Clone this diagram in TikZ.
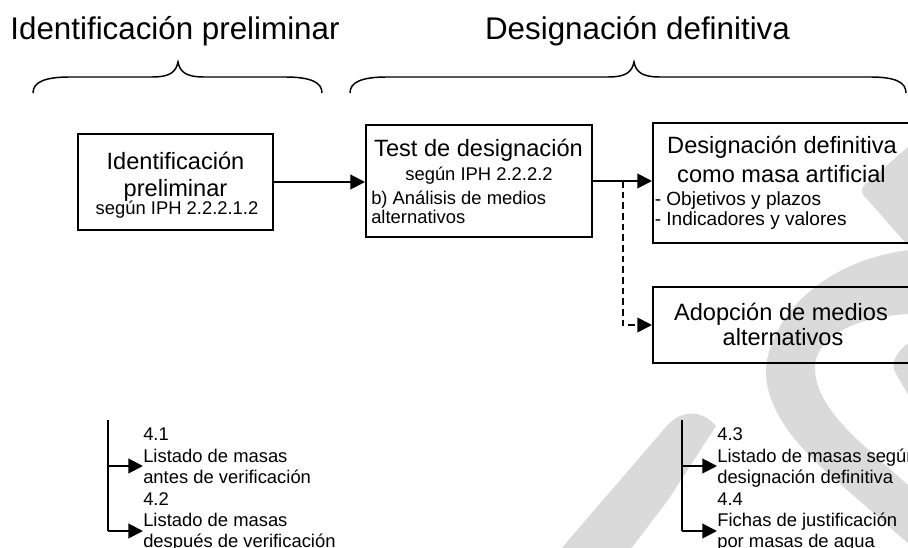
\documentclass[tikz,border=0pt]{standalone}
\usepackage{fontspec}
\setmainfont{Liberation Sans}
\usetikzlibrary{arrows.meta}
\definecolor{wm}{RGB}{218,218,218}
\begin{document}
\begin{tikzpicture}[x=0.75pt,y=-0.75pt,
  box/.style={draw=black, line width=1.5pt, rectangle, inner sep=0pt},
  big/.style={font=\fontsize{17.7pt}{21pt}\selectfont, inner sep=0pt, anchor=base},
  small/.style={font=\fontsize{13.8pt}{16pt}\selectfont, inner sep=0pt, anchor=base},
  smallw/.style={font=\fontsize{13.8pt}{16pt}\selectfont, inner sep=0pt, anchor=base west},
  bullet/.style={font=\fontsize{14.3pt}{16pt}\selectfont, inner sep=0pt, anchor=base west},
  title/.style={font=\fontsize{23.5pt}{28pt}\selectfont, inner sep=0pt, anchor=base},
  arr/.style={line width=1.5pt, -{Triangle[length=11pt,width=11pt]}},
  dsharr/.style={line width=1.3pt, dash pattern=on 5pt off 3pt, -{Triangle[length=11pt,width=11pt]}},
  brace/.style={line width=1.1pt},
  tree/.style={line width=1.5pt}
]
\useasboundingbox (0,0) rectangle (908,548);
\clip (0,0) rectangle (908,548);

% watermark
\fill[wm] (910,145) -- (868,182) .. controls (860,188) and (860,193) .. (867,199) -- (910,248) -- cycle;
\fill[wm] (910,250) .. controls (840,258) and (780,300) .. (767,360)
  .. controls (760,400) and (790,440) .. (830,475) -- (910,545) -- (910,487) -- (880,460)
  .. controls (845,430) and (815,400) .. (815,368) .. controls (815,335) and (860,316) .. (910,314) -- cycle;
\fill[wm] (910,342) .. controls (898,350) and (890,362) .. (895,372) -- (910,398) -- cycle;
\fill[wm] (560,550) -- (665,428) .. controls (680,410) and (700,408) .. (716,426) -- (668,500) -- (630,550) -- cycle;

% titles and braces
\node[title] (t1) at (175,40) {Identificación preliminar};
\node[title] (t2) at (637.5,40) {Designación definitiva};
\draw[brace] (33,93) .. controls (33,82) and (45,77) .. (70,77) -- (152,77)
  .. controls (170,77) and (176,72) .. (178,62) .. controls (180,72) and (186,77) .. (204,77)
  -- (285,77) .. controls (310,77) and (322,82) .. (322,93);
\draw[brace] (350,93) .. controls (350,82) and (362,77) .. (387,77) -- (608,77)
  .. controls (626,77) and (632,72) .. (634,62) .. controls (636,72) and (642,77) .. (660,77)
  -- (870,77) .. controls (895,77) and (906,82) .. (906,93);

% boxes
\node[box, minimum width=146.25pt, minimum height=72pt] (b1) at (175.5,182) {};
\node[box, minimum width=169.5pt, minimum height=84pt] (b2) at (479,181) {};
\node[box, minimum width=193.5pt, minimum height=90pt] (b3) at (782,183) {};
\node[box, minimum width=193.5pt, minimum height=57pt] (b4) at (782,325) {};

% box texts
\node[big] (b1a) at (175.5,170) {Identificación};
\node[big] (b1b) at (175.5,197) {preliminar};
\node[small] (b1c) at (177,215) {según IPH 2.2.2.1.2};

\node[big] (b2a) at (478.5,157) {Test de designación};
\node[small] (b2b) at (479,181) {según IPH 2.2.2.2};
\node[smallw] (b2c) at (371,204.5) {b) Análisis de medios};
\node[smallw] (b2d) at (371,223.5) {alternativos};

\node[big] (b3a) at (782,153.5) {Designación definitiva};
\node[big] (b3b) at (781.5,183) {como masa artificial};
\node[bullet] (b3c) at (654.5,206) {- Objetivos y plazos};
\node[bullet] (b3d) at (654.5,226) {- Indicadores y valores};

\node[big] (b4a) at (781,320.5) {Adopción de medios};
\node[big] (b4b) at (783,346) {alternativos};

% connectors
\draw[arr] (b1.east) -- (b1.east -| b2.west);
\draw[arr] (b2.east) -- (b2.east -| b3.west);
\coordinate (split) at (623,181);
\draw[dsharr] (split) |- (b4.west);

% lists
\coordinate (l0) at (108.3,420);
\coordinate (l1) at (108.3,466);
\coordinate (l2) at (108.3,531);
\coordinate (r0) at (681.7,420);
\coordinate (r1) at (681.7,466);
\coordinate (r2) at (681.7,531);

\node[smallw] (la1) at (143,441) {4.1};
\node[smallw] (la2) at (143,462.4) {Listado de masas};
\node[smallw] (la3) at (143,483.8) {antes de verificación};
\node[smallw] (lb1) at (143,505.2) {4.2};
\node[smallw] (lb2) at (143,526.6) {Listado de masas};
\node[smallw] (lb3) at (143,548) {después de verificación};

\node[smallw] (ra1) at (717,441) {4.3};
\node[smallw] (ra2) at (717,462.4) {Listado de masas según};
\node[smallw] (ra3) at (717,483.8) {designación definitiva};
\node[smallw] (rb1) at (717,505.2) {4.4};
\node[smallw] (rb2) at (717,526.6) {Fichas de justificación};
\node[smallw] (rb3) at (717,548) {por masas de agua};

\draw[tree] (l0) -- (l2);
\draw[arr] (l1) -- (l1 -| la2.west);
\draw[arr] (l2) -- (l2 -| lb2.west);
\draw[tree] (r0) -- (r2);
\draw[arr] (r1) -- (r1 -| ra2.west);
\draw[arr] (r2) -- (r2 -| rb2.west);
\end{tikzpicture}
\end{document}
